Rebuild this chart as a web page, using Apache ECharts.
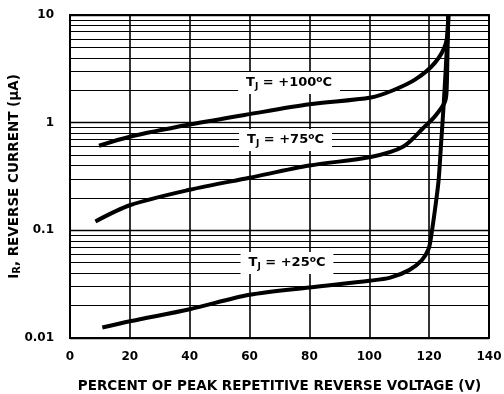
<!DOCTYPE html>
<html>
<head>
<meta charset="utf-8">
<script src="https://cdn.jsdelivr.net/npm/echarts@6/dist/echarts.min.js"></script>
<style>
html,body{margin:0;padding:0;background:#fff;}
#chart{width:504px;height:394px;}
</style>
</head>
<body>
<div id="chart"></div>
<script>
// Percent of peak repetitive reverse voltage (x) and reverse current in µA (y)
const x100 = [9.7, 20, 40, 60, 80, 100.5, 108, 115.4, 121.9, 125.6, 126.4];
const y100 = [0.61, 0.74, 0.96, 1.2, 1.48, 1.71, 2.0, 2.52, 3.59, 5.48, 10];

const x75 = [8.5, 20, 40, 60, 80, 100.5, 111.4, 118.7, 122, 125.2, 125.8, 126.1, 126.4];
const y75 = [0.121, 0.171, 0.238, 0.308, 0.40, 0.48, 0.6, 0.93, 1.15, 1.54, 1.9, 4.0, 10];

const x25 = [10.8, 20, 40, 60, 80, 100, 107, 113.3, 117.5, 119.8, 120.7, 122.3, 123.2, 124, 124.9, 126, 126.4];
const y25 = [0.0125, 0.0143, 0.0185, 0.0252, 0.0295, 0.034, 0.0364, 0.0427, 0.0526, 0.067, 0.089, 0.184, 0.3, 0.645, 1.54, 5.48, 10];

const xTicks = [0, 20, 40, 60, 80, 100, 120, 140];
const yTicks = [0.01, 0.1, 1, 10];
const minorGrid = [0.02,0.03,0.04,0.05,0.06,0.07,0.08,0.09,
                   0.2,0.3,0.4,0.5,0.6,0.7,0.8,0.9,
                   2,3,4,5,6,7,8,9];

const labelNames = ['T{s|J} = +100{o|o}C', 'T{s|J} = +75{o|o}C', 'T{s|J} = +25{o|o}C'];
const labelPos = [[73.2, 2.33], [72, 0.69], [72.5, 0.0497]];

const FONT = 'DejaVu Sans';
const zip = (xs, ys) => xs.map((x, i) => [x, ys[i]]);

const rich = {
  s: {fontFamily: FONT, fontWeight: 'bold', fontSize: 9, verticalAlign: 'bottom', lineHeight: 16, padding:[6,0,0,0]},
  o: {fontFamily: FONT, fontWeight: 'bold', fontSize: 9, verticalAlign: 'top', lineHeight: 16, padding:[0,0,6,0]}
};

function curve(xs, ys, idx) {
  return {
    type: 'line',
    data: zip(xs, ys),
    showSymbol: false,
    symbol: 'none',
    smooth: 0.3,
    lineStyle: {color: '#000', width: 4},
    z: 5,
    markPoint: {
      symbol: 'rect',
      symbolSize: [1, 1],
      itemStyle: {color: 'rgba(0,0,0,0)'},
      z: 10,
      data: [{
        coord: labelPos[idx],
        label: {
          show: true,
          position: 'inside',
          formatter: labelNames[idx],
          color: '#000',
          fontFamily: FONT,
          fontWeight: 'bold',
          fontSize: 13,
          lineHeight: 16,
          backgroundColor: '#fff',
          padding: [3, 8, 3, 8],
          rich: rich
        }
      }]
    }
  };
}

const chart = echarts.init(document.getElementById('chart'), null, {renderer: 'canvas'});
chart.setOption({
  animation: false,
  backgroundColor: '#fff',
  grid: {left: 70, right: 15, top: 15, bottom: 56, containLabel: false, outerBoundsMode: 'none',
    show: true, borderColor: '#000', borderWidth: 2, backgroundColor: 'transparent'},
  xAxis: {
    type: 'value', min: 0, max: 140, interval: 20,
    axisLine: {show: true, lineStyle: {color: '#000', width: 2}},
    axisTick: {show: false},
    splitLine: {show: true, lineStyle: {color: '#000', width: 1.6}},
    axisLabel: {color: '#000', fontFamily: FONT, fontWeight: 'bold', fontSize: 12, margin: 13,
      formatter: v => xTicks.includes(v) ? String(v) : ''},
    name: 'PERCENT OF PEAK REPETITIVE REVERSE VOLTAGE (V)',
    nameLocation: 'middle', nameGap: 41, nameMoveOverlap: false,
    nameTextStyle: {color: '#000', fontFamily: FONT, fontWeight: 'bold', fontSize: 13.5}
  },
  yAxis: {
    type: 'log', logBase: 10, min: 0.01, max: 10,
    axisLine: {show: true, lineStyle: {color: '#000', width: 2}},
    axisTick: {show: false},
    splitLine: {show: true, lineStyle: {color: '#000', width: 1.4}},
    axisLabel: {color: '#000', fontFamily: FONT, fontWeight: 'bold', fontSize: 12, margin: 16,
      formatter: v => {
        const t = yTicks.find(k => Math.abs(k - v) / k < 1e-6);
        return t === undefined ? '' : String(t);
      }},
    name: 'I{s|R}, REVERSE CURRENT (µA)',
    nameLocation: 'middle', nameGap: 48, nameMoveOverlap: false,
    nameTextStyle: {color: '#000', fontFamily: FONT, fontWeight: 'bold', fontSize: 13.5,
      rich: {s: {fontFamily: FONT, fontWeight: 'bold', fontSize: 10, verticalAlign: 'bottom', lineHeight: 16, padding: [6,0,0,0]}}}
  },
  series: [
    {
      type: 'line', data: [], silent: true, z: 1,
      markLine: {
        silent: true, symbol: 'none', label: {show: false},
        lineStyle: {color: '#000', width: 1.2, type: 'solid'},
        data: minorGrid.map(v => ({yAxis: v}))
      }
    },
    curve(x100, y100, 0),
    curve(x75, y75, 1),
    curve(x25, y25, 2)
  ]
});
</script>
</body>
</html>
